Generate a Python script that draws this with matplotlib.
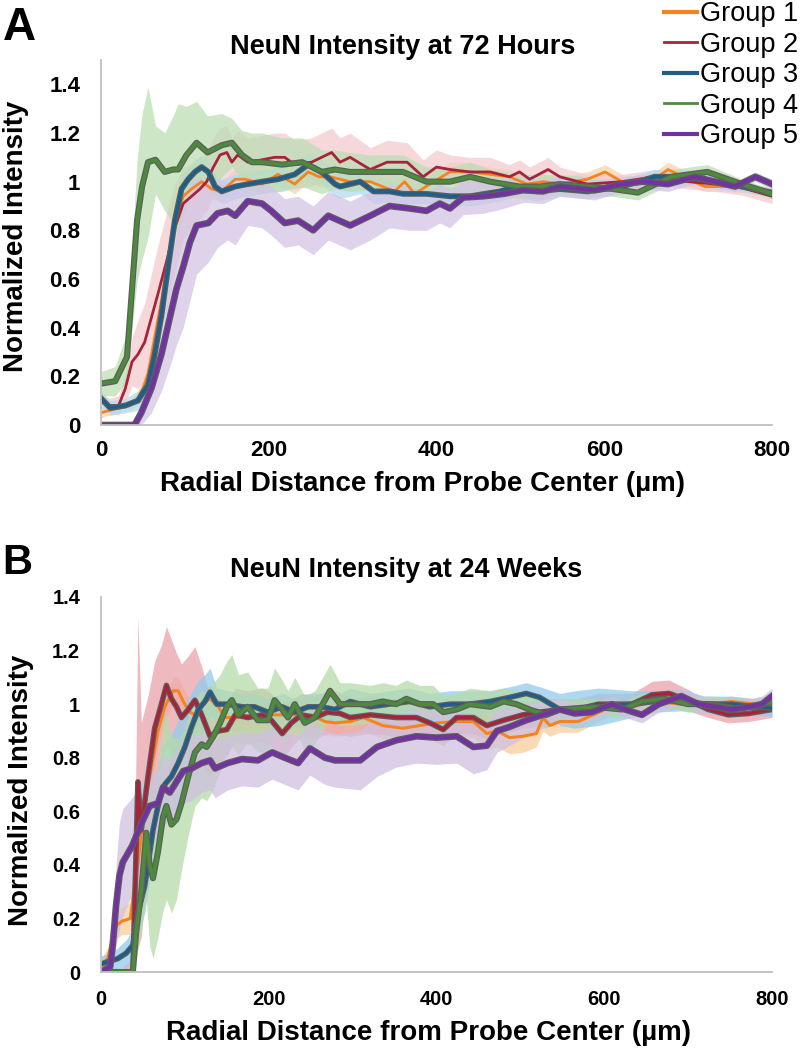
import numpy as np
import matplotlib
matplotlib.use("Agg")
import matplotlib.pyplot as plt
import matplotlib.patheffects as pe
from matplotlib.lines import Line2D

plt.rcParams['font.family'] = ['Liberation Sans', 'DejaVu Sans']

# ---- data: radial distance (um), mean, error half-width ----
group_names = ["Group 1", "Group 2", "Group 3", "Group 4", "Group 5"]

# Panel A - 72 hours
x_a1 = [0, 10, 22, 34, 44, 50, 56, 64, 72, 82, 90, 98, 108, 120, 132, 144, 160, 172, 192, 211,
        231, 247, 260, 273, 297, 321, 350, 362, 374, 392, 416, 440, 464, 487, 508, 527, 547, 580, 601, 621,
        640, 660, 676, 700, 720, 747, 780, 800]
y_a1 = [0.05, 0.06, 0.07, 0.08, 0.11, 0.15, 0.21, 0.36, 0.51, 0.70, 0.86, 0.94, 0.97, 1.00, 0.97, 0.96, 1.01, 1.01, 0.99, 1.03,
        0.99, 1.04, 1.02, 1.02, 1.00, 1.00, 0.96, 1.00, 0.95, 0.99, 1.04, 1.04, 1.03, 1.02, 0.99, 1.00, 0.99, 1.01, 1.04, 1.00,
        0.99, 1.01, 1.05, 1.01, 0.98, 0.98, 0.97, 0.955]
sd_a1 = [0.02, 0.02, 0.02, 0.02, 0.03, 0.04, 0.05, 0.06, 0.07, 0.07, 0.06, 0.05, 0.04, 0.04, 0.04, 0.04, 0.04, 0.04, 0.04, 0.04,
         0.04, 0.04, 0.04, 0.04, 0.04, 0.04, 0.04, 0.04, 0.04, 0.04, 0.04, 0.04, 0.03, 0.03, 0.03, 0.03, 0.03, 0.03, 0.03, 0.03,
         0.03, 0.03, 0.03, 0.03, 0.02, 0.02, 0.02, 0.02]

x_a2 = [0, 11, 21, 29, 37, 44, 52, 60, 68, 78, 88, 98, 108, 118, 126, 134, 142, 150, 156, 163,
        175, 192, 207, 219, 231, 251, 275, 285, 297, 321, 341, 365, 384, 400, 416, 440, 464, 487, 499, 511,
        533, 547, 580, 621, 660, 700, 732, 764, 800]
y_a2 = [0.095, 0.08, 0.08, 0.15, 0.26, 0.29, 0.34, 0.44, 0.54, 0.67, 0.81, 0.91, 0.94, 0.97, 1.00, 1.06, 1.11, 1.12, 1.08, 1.11,
        1.08, 1.09, 1.10, 1.10, 1.07, 1.08, 1.12, 1.08, 1.10, 1.05, 1.08, 1.08, 1.02, 1.06, 1.05, 1.04, 1.04, 1.02, 1.04, 1.01,
        1.05, 1.02, 0.99, 1.00, 1.02, 1.00, 0.99, 0.975, 0.94]
sd_a2 = [0.03, 0.03, 0.04, 0.06, 0.10, 0.14, 0.16, 0.18, 0.20, 0.20, 0.18, 0.15, 0.13, 0.12, 0.12, 0.12, 0.11, 0.11, 0.10, 0.10,
         0.10, 0.10, 0.10, 0.10, 0.10, 0.10, 0.10, 0.10, 0.10, 0.09, 0.09, 0.08, 0.07, 0.07, 0.06, 0.06, 0.06, 0.05, 0.05, 0.05,
         0.05, 0.04, 0.04, 0.03, 0.03, 0.03, 0.03, 0.03, 0.03]

x_a3 = [0, 11, 29, 44, 56, 64, 72, 80, 88, 96, 104, 112, 120, 128, 136, 144, 160, 175, 192, 211,
        231, 247, 263, 279, 285, 309, 325, 344, 360, 388, 416, 440, 476, 495, 520, 547, 580, 621, 660, 700,
        732, 764, 800]
y_a3 = [0.11, 0.07, 0.08, 0.10, 0.165, 0.29, 0.45, 0.65, 0.84, 0.97, 1.01, 1.04, 1.06, 1.04, 0.98, 0.96, 0.98, 0.99, 1.00, 1.01,
        1.03, 1.07, 1.04, 0.99, 0.98, 1.00, 0.96, 0.96, 0.95, 0.95, 0.94, 0.94, 0.96, 0.98, 0.96, 0.97, 0.96, 0.98, 1.02, 1.02,
        1.00, 0.98, 0.955]
sd_a3 = [0.03, 0.03, 0.03, 0.04, 0.05, 0.07, 0.08, 0.08, 0.07, 0.06, 0.05, 0.05, 0.05, 0.05, 0.05, 0.05, 0.05, 0.05, 0.05, 0.05,
         0.05, 0.05, 0.05, 0.05, 0.05, 0.05, 0.05, 0.04, 0.04, 0.04, 0.04, 0.04, 0.04, 0.04, 0.04, 0.03, 0.03, 0.03, 0.03, 0.03,
         0.03, 0.02, 0.02]

x_a4 = [0, 17, 31, 37, 43, 49, 56, 65, 76, 86, 92, 102, 114, 127, 144, 156, 168, 180, 192, 216,
        240, 263, 279, 297, 321, 344, 360, 388, 416, 440, 464, 499, 523, 547, 580, 610, 640, 680, 723, 764,
        800]
y_a4 = [0.17, 0.18, 0.28, 0.56, 0.84, 0.98, 1.08, 1.09, 1.04, 1.05, 1.05, 1.11, 1.16, 1.12, 1.15, 1.16, 1.11, 1.08, 1.08, 1.07,
        1.08, 1.04, 1.05, 1.04, 1.04, 1.04, 1.04, 1.00, 1.00, 1.02, 1.00, 0.98, 0.98, 0.99, 0.98, 0.97, 0.955, 1.02, 1.04, 0.99,
        0.95]
sd_a4 = [0.05, 0.06, 0.10, 0.16, 0.25, 0.30, 0.31, 0.14, 0.16, 0.22, 0.27, 0.20, 0.17, 0.15, 0.13, 0.10, 0.10, 0.12, 0.12, 0.11,
         0.10, 0.09, 0.08, 0.08, 0.07, 0.07, 0.07, 0.06, 0.06, 0.06, 0.05, 0.05, 0.05, 0.04, 0.04, 0.03, 0.03, 0.03, 0.03, 0.02,
         0.02]

x_a5 = [0, 20, 40, 48, 60, 72, 82, 90, 98, 106, 114, 128, 139, 151, 160, 175, 192, 203, 219, 235,
        253, 271, 297, 321, 344, 368, 388, 404, 416, 432, 456, 480, 503, 527, 547, 589, 621, 645, 676, 708,
        732, 756, 780, 800]
y_a5 = [0.0, 0.0, 0.0, 0.05, 0.15, 0.29, 0.44, 0.56, 0.65, 0.75, 0.82, 0.83, 0.87, 0.88, 0.86, 0.92, 0.91, 0.88, 0.83, 0.84,
        0.80, 0.86, 0.82, 0.86, 0.90, 0.89, 0.88, 0.91, 0.89, 0.935, 0.94, 0.95, 0.965, 0.96, 0.98, 0.965, 0.99, 1.00, 0.99, 1.02,
        1.00, 0.98, 1.02, 0.99]
sd_a5 = [0.0, 0.0, 0.02, 0.06, 0.10, 0.15, 0.20, 0.23, 0.25, 0.24, 0.20, 0.16, 0.14, 0.12, 0.12, 0.10, 0.10, 0.10, 0.10, 0.10,
         0.10, 0.10, 0.10, 0.10, 0.09, 0.09, 0.08, 0.08, 0.08, 0.07, 0.07, 0.06, 0.05, 0.05, 0.04, 0.04, 0.03, 0.03, 0.03, 0.03,
         0.02, 0.02, 0.02, 0.02]

# Panel B - 24 weeks
x_b1 = [0, 8, 14, 19, 25, 35, 39, 44, 52, 61, 68, 76, 86, 92, 98, 106, 112, 120, 130, 140,
        148, 164, 180, 196, 216, 231, 251, 267, 279, 297, 313, 336, 360, 380, 400, 424, 444, 460, 472, 487,
        503, 519, 527, 535, 547, 569, 601, 633, 660, 692, 720, 752, 780, 800]
y_b1 = [0.02, 0.05, 0.13, 0.175, 0.19, 0.2, 0.3, 0.40, 0.62, 0.78, 0.90, 0.99, 1.05, 1.05, 1.01, 0.97, 0.96, 1.00, 1.02, 0.99,
        0.95, 0.95, 0.96, 0.96, 0.96, 0.96, 0.96, 0.935, 0.93, 0.935, 0.95, 0.92, 0.91, 0.92, 0.93, 0.935, 0.935, 0.89, 0.90, 0.875,
        0.88, 0.89, 0.95, 0.92, 0.935, 0.935, 0.98, 0.99, 1.01, 1.00, 1.00, 1.01, 1.00, 0.995]
sd_b1 = [0.03, 0.04, 0.05, 0.05, 0.05, 0.06, 0.08, 0.10, 0.10, 0.08, 0.06, 0.05, 0.05, 0.05, 0.05, 0.05, 0.05, 0.05, 0.05, 0.05,
         0.05, 0.05, 0.05, 0.05, 0.05, 0.05, 0.05, 0.05, 0.05, 0.05, 0.05, 0.05, 0.05, 0.05, 0.06, 0.06, 0.06, 0.06, 0.06, 0.06,
         0.06, 0.05, 0.05, 0.04, 0.04, 0.04, 0.03, 0.03, 0.03, 0.02, 0.02, 0.02, 0.02, 0.02]

x_b2 = [0, 20, 38, 41, 44, 48, 56, 64, 72, 78, 84, 90, 96, 104, 112, 120, 130, 140, 150, 160,
        175, 192, 203, 216, 227, 239, 255, 270, 285, 297, 321, 352, 376, 392, 408, 424, 444, 460, 480, 503,
        523, 547, 567, 593, 633, 657, 677, 700, 724, 748, 772, 800]
y_b2 = [0.0, 0.0, 0.0, 0.35, 0.71, 0.53, 0.73, 0.91, 1.00, 1.07, 1.02, 0.99, 0.95, 0.98, 1.015, 0.96, 0.88, 0.90, 0.905, 0.96,
        0.95, 0.96, 0.94, 0.89, 0.93, 0.96, 0.95, 0.97, 0.965, 0.95, 0.96, 0.95, 0.95, 0.93, 0.905, 0.95, 0.95, 0.92, 0.94, 0.96,
        0.97, 0.98, 0.98, 1.00, 1.00, 1.035, 1.04, 1.015, 0.98, 0.96, 0.965, 0.98]
sd_b2 = [0.0, 0.0, 0.05, 0.30, 0.62, 0.40, 0.30, 0.25, 0.22, 0.22, 0.22, 0.20, 0.20, 0.20, 0.20, 0.18, 0.15, 0.12, 0.10, 0.10,
         0.10, 0.10, 0.10, 0.10, 0.09, 0.08, 0.08, 0.08, 0.08, 0.07, 0.07, 0.07, 0.06, 0.06, 0.06, 0.06, 0.06, 0.05, 0.05, 0.05,
         0.05, 0.04, 0.04, 0.04, 0.04, 0.05, 0.05, 0.04, 0.03, 0.03, 0.03, 0.03]

x_b3 = [0, 10, 20, 30, 38, 44, 52, 56, 62, 70, 76, 84, 92, 100, 108, 116, 124, 130, 138, 151,
        168, 183, 199, 216, 231, 247, 263, 279, 297, 321, 344, 368, 392, 416, 440, 464, 487, 507, 523, 547,
        565, 593, 633, 660, 692, 720, 752, 780, 800]
y_b3 = [0.03, 0.04, 0.05, 0.07, 0.10, 0.22, 0.32, 0.40, 0.53, 0.65, 0.70, 0.73, 0.78, 0.84, 0.915, 0.98, 1.01, 1.045, 1.00, 1.00,
        0.99, 0.99, 0.97, 0.99, 0.97, 0.99, 0.99, 0.98, 1.01, 0.99, 1.00, 1.01, 0.99, 1.00, 1.00, 1.01, 1.025, 1.04, 1.025, 0.98,
        0.98, 0.99, 1.00, 1.01, 1.015, 1.00, 1.00, 0.99, 0.985]
sd_b3 = [0.03, 0.03, 0.04, 0.05, 0.06, 0.08, 0.10, 0.10, 0.12, 0.15, 0.15, 0.16, 0.16, 0.15, 0.13, 0.11, 0.10, 0.09, 0.06, 0.05,
         0.05, 0.05, 0.05, 0.05, 0.05, 0.05, 0.05, 0.05, 0.05, 0.05, 0.05, 0.05, 0.05, 0.05, 0.05, 0.04, 0.04, 0.04, 0.04, 0.06,
         0.07, 0.07, 0.05, 0.04, 0.04, 0.03, 0.03, 0.03, 0.03]

x_b4 = [0, 20, 38, 42, 48, 54, 58, 62, 68, 74, 78, 84, 90, 96, 104, 112, 120, 126, 134, 142,
        150, 156, 164, 175, 187, 199, 207, 216, 223, 231, 243, 255, 267, 273, 285, 297, 321, 336, 352, 364,
        380, 396, 408, 424, 440, 464, 480, 495, 511, 531, 547, 589, 621, 645, 672, 700, 728, 756, 780, 800]
y_b4 = [0.0, 0.0, 0.0, 0.15, 0.30, 0.52, 0.40, 0.35, 0.45, 0.58, 0.62, 0.55, 0.57, 0.63, 0.73, 0.82, 0.85, 0.84, 0.88, 0.93,
        0.99, 1.015, 0.96, 0.99, 0.94, 0.94, 1.015, 0.98, 0.95, 1.00, 0.93, 0.95, 1.015, 1.05, 1.00, 1.00, 1.00, 1.01, 1.00, 1.02,
        1.00, 1.00, 0.97, 0.98, 1.00, 0.99, 1.01, 1.00, 0.98, 0.96, 0.98, 0.99, 0.98, 1.01, 1.02, 1.00, 1.00, 0.985, 0.99, 1.01]
sd_b4 = [0.0, 0.0, 0.02, 0.10, 0.15, 0.25, 0.30, 0.30, 0.32, 0.35, 0.35, 0.33, 0.30, 0.25, 0.22, 0.20, 0.20, 0.20, 0.20, 0.18,
         0.17, 0.17, 0.15, 0.13, 0.12, 0.12, 0.12, 0.11, 0.10, 0.10, 0.10, 0.10, 0.10, 0.10, 0.08, 0.08, 0.07, 0.07, 0.07, 0.07,
         0.07, 0.07, 0.06, 0.06, 0.06, 0.06, 0.05, 0.05, 0.05, 0.05, 0.04, 0.03, 0.03, 0.03, 0.03, 0.03, 0.03, 0.03, 0.03, 0.03]

x_b5 = [0, 11, 14, 18, 22, 26, 37, 49, 58, 68, 74, 82, 90, 98, 108, 120, 130, 136, 151, 168,
        187, 204, 219, 235, 249, 267, 279, 309, 329, 352, 376, 400, 424, 444, 460, 472, 487, 507, 527, 547,
        565, 585, 609, 625, 645, 665, 692, 712, 732, 752, 772, 788, 800]
y_b5 = [0.0, 0.02, 0.1, 0.25, 0.36, 0.41, 0.47, 0.56, 0.62, 0.63, 0.69, 0.67, 0.71, 0.75, 0.76, 0.78, 0.79, 0.76, 0.78, 0.795,
        0.79, 0.82, 0.80, 0.78, 0.835, 0.80, 0.79, 0.79, 0.84, 0.865, 0.88, 0.875, 0.88, 0.84, 0.845, 0.90, 0.915, 0.94, 0.96, 0.98,
        0.965, 0.97, 1.00, 0.98, 0.96, 1.00, 1.03, 1.00, 0.99, 0.98, 0.99, 1.00, 1.03]
sd_b5 = [0.0, 0.02, 0.08, 0.15, 0.20, 0.20, 0.18, 0.15, 0.13, 0.12, 0.12, 0.12, 0.12, 0.12, 0.12, 0.11, 0.11, 0.11, 0.10, 0.10,
         0.10, 0.10, 0.10, 0.10, 0.10, 0.10, 0.10, 0.11, 0.11, 0.10, 0.10, 0.10, 0.10, 0.10, 0.09, 0.08, 0.07, 0.06, 0.05, 0.04,
         0.04, 0.03, 0.03, 0.03, 0.03, 0.03, 0.03, 0.03, 0.03, 0.03, 0.03, 0.03, 0.03]

y_ticks = [0, 0.2, 0.4, 0.6, 0.8, 1.0, 1.2, 1.4]
y_tick_labels = ["0", "0.2", "0.4", "0.6", "0.8", "1", "1.2", "1.4"]
x_ticks = [0, 200, 400, 600, 800]

# colours
line_colors = ['#F7821E', '#A8233A', '#1D5E8B', '#4B8B3B', '#7232A2']
band_a = ['#FAD3AE', '#F4CBD0', '#B2DCF2', '#BCDEB3', '#D3C5E5']
band_b = ['#FCCD9D', '#E9A3AB', '#92CCEC', '#B5DCAA', '#CFC1E0']
outline = '#5E5E5E'


def draw_band(ax, x, y, sd, band):
    x = np.array(x)
    y = np.array(y)
    sd = np.array(sd)
    ax.fill_between(x, np.clip(y - sd, 0, None), y + sd, color=band, alpha=0.75, lw=0)


def draw_line(ax, x, y, color, lw, edge):
    effects = [pe.Stroke(linewidth=lw + 1.8, foreground=outline), pe.Normal()] if edge else None
    ax.plot(x, y, color=color, lw=lw, path_effects=effects, solid_joinstyle='round')


def style_axes(ax, ymax, tick_size, xpad, ypad):
    ax.set_xlim(0, 800)
    ax.set_ylim(0, ymax)
    ax.set_yticks(y_ticks)
    ax.set_yticklabels(y_tick_labels)
    ax.set_xticks(x_ticks)
    for s in ['top', 'right']:
        ax.spines[s].set_visible(False)
    for s in ['left', 'bottom']:
        ax.spines[s].set_color('#BFBFBF')
        ax.spines[s].set_linewidth(1.3)
    ax.tick_params(axis='both', length=0, labelsize=tick_size)
    ax.tick_params(axis='x', pad=xpad)
    ax.tick_params(axis='y', pad=ypad)
    for lab in ax.get_xticklabels() + ax.get_yticklabels():
        lab.set_fontweight('bold')


fig = plt.figure(figsize=(8.01, 10.5), dpi=100)
W, H = 801.0, 1050.0

ax_a = fig.add_axes([101 / W, 1 - 425 / H, 671 / W, 365 / H])
ax_b = fig.add_axes([101 / W, 1 - 972 / H, 671 / W, 375 / H])

panel_a = [(x_a1, y_a1, sd_a1), (x_a2, y_a2, sd_a2), (x_a3, y_a3, sd_a3), (x_a4, y_a4, sd_a4), (x_a5, y_a5, sd_a5)]
panel_b = [(x_b1, y_b1, sd_b1), (x_b2, y_b2, sd_b2), (x_b3, y_b3, sd_b3), (x_b4, y_b4, sd_b4), (x_b5, y_b5, sd_b5)]

# line widths and whether the gray outline shows, per group
lw_a = [2.0, 2.0, 2.4, 2.6, 3.0]
edge_a = [False, False, True, True, True]
lw_b = [2.2, 2.2, 2.2, 2.6, 3.0]
edge_b = [False, True, True, True, True]

for i, (x, y, sd) in enumerate(panel_a):
    draw_band(ax_a, x, y, sd, band_a[i])
for i, (x, y, sd) in enumerate(panel_a):
    draw_line(ax_a, x, y, line_colors[i], lw_a[i], edge_a[i])

for i, (x, y, sd) in enumerate(panel_b):
    draw_band(ax_b, x, y, sd, band_b[i])
for i, (x, y, sd) in enumerate(panel_b):
    draw_line(ax_b, x, y, line_colors[i], lw_b[i], edge_b[i])

style_axes(ax_a, 1.5, 16, 11, 15)
style_axes(ax_b, 1.4, 14.5, 13, 15)

# titles, axis labels and panel letters placed in figure pixels
fig.text(3 / W, 1 - 28 / H, "A", fontsize=33, fontweight='bold', ha='left', va='center')
fig.text(2 / W, 1 - 563 / H, "B", fontsize=30, fontweight='bold', ha='left', va='center')
fig.text(403 / W, 1 - 47 / H, "NeuN Intensity at 72 Hours", fontsize=19.5, fontweight='bold', ha='center', va='center')
fig.text(406 / W, 1 - 570 / H, "NeuN Intensity at 24 Weeks", fontsize=19.5, fontweight='bold', ha='center', va='center')
fig.text(423 / W, 1 - 484 / H, "Radial Distance from Probe Center (µm)", fontsize=20, fontweight='bold',
         ha='center', va='center')
fig.text(428 / W, 1 - 1033 / H, "Radial Distance from Probe Center (µm)", fontsize=20, fontweight='bold',
         ha='center', va='center')
fig.text(16 / W, 1 - 236 / H, "Normalized Intensity", fontsize=20, fontweight='bold', rotation=90,
         ha='center', va='center')
fig.text(21 / W, 1 - 790 / H, "Normalized Intensity", fontsize=20, fontweight='bold', rotation=90,
         ha='center', va='center')

# legend at the top right corner
legend_lw = [3.0, 2.0, 3.0, 2.0, 3.0]
handles = [Line2D([0], [0], color=line_colors[i], lw=legend_lw[i]) for i in range(5)]
fig.legend(handles, group_names, loc='upper left', bbox_to_anchor=(664 / W, 1 - 1 / H), frameon=False,
           fontsize=19.5, handlelength=1.2, handletextpad=0.12, labelspacing=0.17, borderpad=0, borderaxespad=0)

fig.savefig('out.png', dpi=100)
